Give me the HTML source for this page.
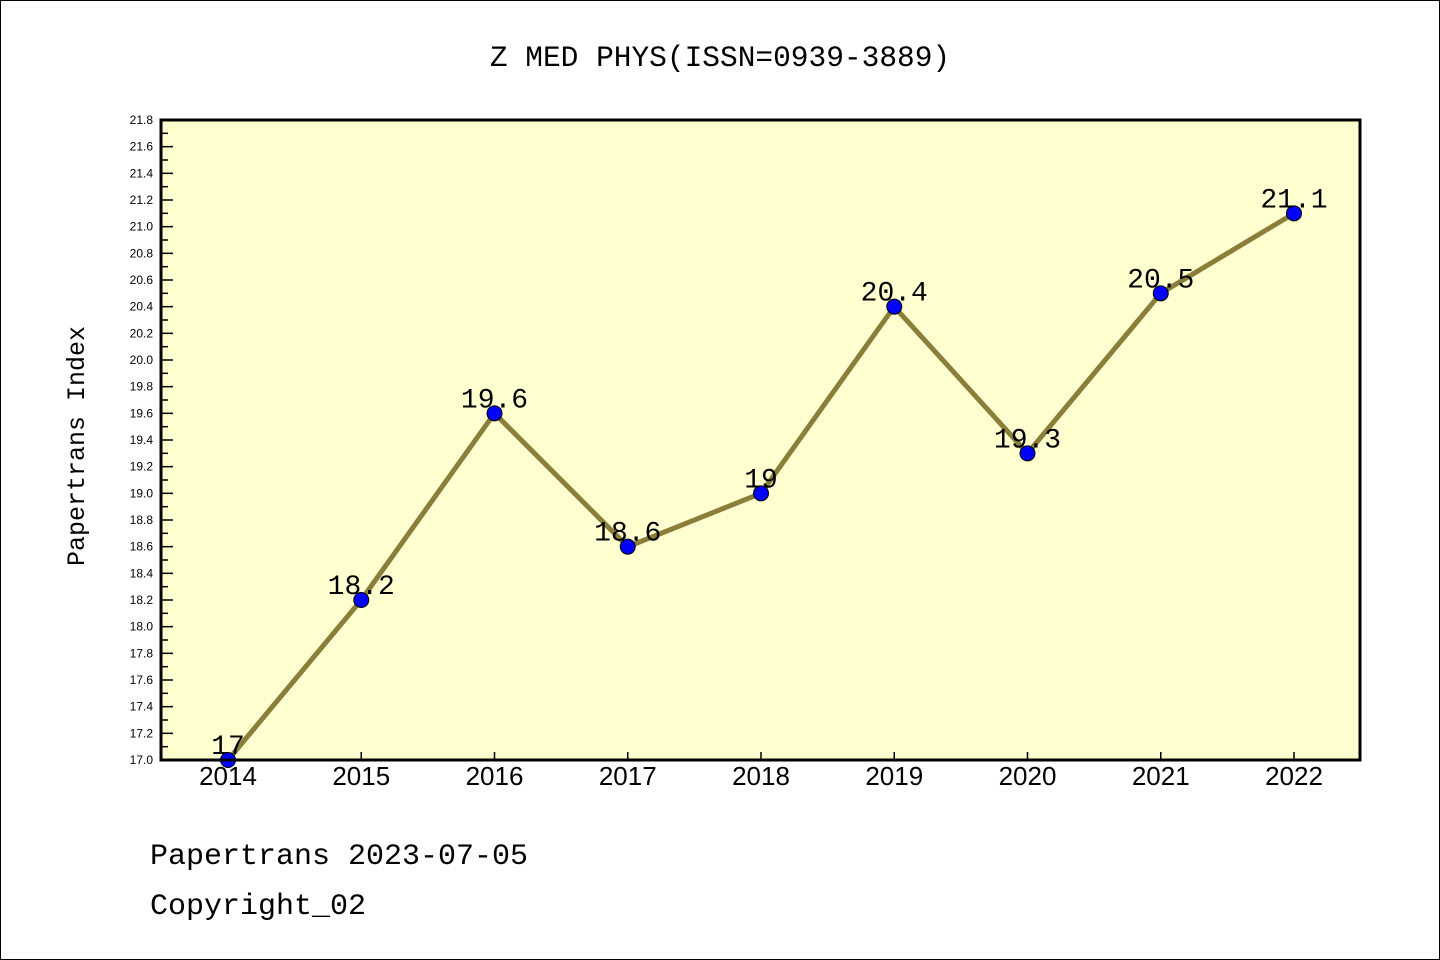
<!DOCTYPE html>
<html><head><meta charset="utf-8"><style>
body{margin:0;background:#fff}
svg{display:block;font-family:"Liberation Sans","WenQuanYi Zen Hei",sans-serif}
</style></head><body>
<svg width="1440" height="960">
<rect x="0.5" y="0.5" width="1439" height="959" fill="#fff" stroke="#000"/>
<text x="720" y="66" text-anchor="middle" font-size="29.5" font-family="Liberation Mono, monospace">Z MED PHYS(ISSN=0939-3889)</text>
<rect x="161" y="120" width="1199" height="640" fill="#ffffd0"/>
<g id="yaxis"></g>
<g id="xaxis"></g>
<g id="series"></g>
<rect x="161" y="120" width="1199" height="640" fill="none" stroke="#000" stroke-width="3"/>
<text transform="translate(84,446) rotate(-90)" text-anchor="middle" font-size="25" font-family="Liberation Mono, monospace">Papertrans Index</text>
<text x="150" y="864" font-size="30" font-family="Liberation Mono, monospace">Papertrans 2023-07-05</text>
<text x="150" y="914" font-size="30" font-family="Liberation Mono, monospace">Copyright_02</text>
</svg>
<script>
const years=["2014","2015","2016","2017","2018","2019","2020","2021","2022"];
const values=[17,18.2,19.6,18.6,19,20.4,19.3,20.5,21.1];
const labels=["17","18.2","19.6","18.6","19","20.4","19.3","20.5","21.1"];
const yTicks=[17.0,17.2,17.4,17.6,17.8,18.0,18.2,18.4,18.6,18.8,19.0,19.2,19.4,19.6,19.8,20.0,20.2,20.4,20.6,20.8,21.0,21.2,21.4,21.6,21.8];
const NS="http://www.w3.org/2000/svg";
const yMin=17,yMax=21.8,plotTop=120,plotBot=760;
function ys(v){return plotBot-(v-yMin)/(yMax-yMin)*(plotBot-plotTop);}
function xs(i){return 228+i*133.25;}
function mk(t,a,p){const e=document.createElementNS(NS,t);for(const k in a)e.setAttribute(k,a[k]);p.appendChild(e);return e;}
const ya=document.getElementById('yaxis'),xa=document.getElementById('xaxis'),se=document.getElementById('series');
yTicks.forEach((v,i)=>{
  const y=ys(v);
  const t=mk('line',{x1:161,x2:173,y1:y,y2:y,stroke:'#000','stroke-width':1.5},ya);
  
  
  const l=mk('text',{x:153,y:y+4,'text-anchor':'end','font-size':12},ya);
  l.textContent=v.toFixed(1);
  
  
  if(i<yTicks.length-1){const ym=ys(v+0.1);
    const m=mk('line',{x1:161,x2:168,y1:ym,y2:ym,stroke:'#000','stroke-width':1.5},ya);
    
    }
});
years.forEach((yr,i)=>{
  const x=xs(i);
  const t=mk('line',{x1:x,x2:x,y1:760,y2:752,stroke:'#000','stroke-width':1.5},xa);
  
  
  const l=mk('text',{x:x,y:785,'text-anchor':'middle','font-size':26},xa);
  l.textContent=yr;
  
  
});
const line=mk('polyline',{points:values.map((v,i)=>xs(i)+','+ys(v)).join(' '),fill:'none',stroke:'#8b7d3a','stroke-width':5},se);


values.forEach((v,i)=>{
  const c=mk('circle',{cx:xs(i),cy:ys(v),r:7.5,fill:'#0000ff',stroke:'#000','stroke-width':1},se);
  
  
  const l=mk('text',{x:xs(i),y:ys(v)-6,'text-anchor':'middle','font-size':28,'font-family':'Liberation Mono, monospace'},se);
  l.textContent=labels[i];
  
  
});
</script>
</body></html>
